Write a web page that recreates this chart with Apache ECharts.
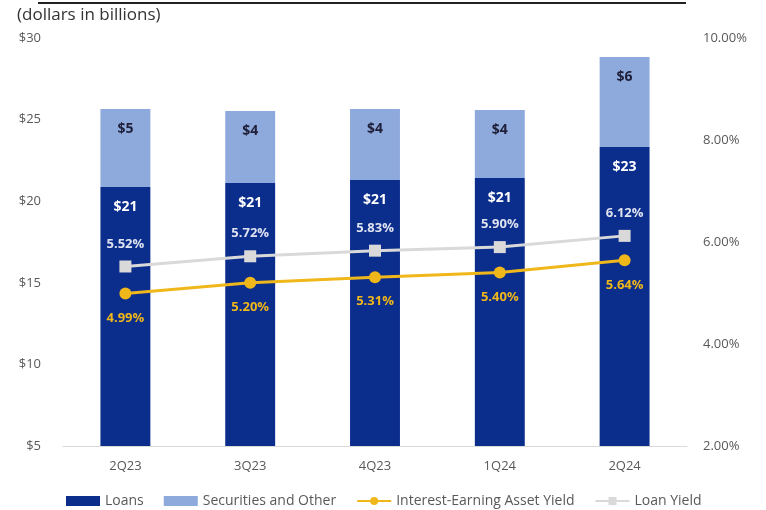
<!DOCTYPE html>
<html>
<head>
<meta charset="utf-8">
<script src="https://cdn.jsdelivr.net/npm/echarts@6/dist/echarts.min.js"></script>
<style>
  html, body { margin: 0; padding: 0; background: #fff; }
  #chart { width: 766px; height: 510px; }
</style>
</head>
<body>
<div id="chart"></div>
<script>
// Quarterly balances (dollars in billions) and yields (%)
const quarters = ['2Q23', '3Q23', '4Q23', '1Q24', '2Q24'];
const loans = [20.87, 21.12, 21.30, 21.42, 23.32];
const securities = [4.78, 4.41, 4.35, 4.17, 5.52];
const assetYield = [4.99, 5.20, 5.31, 5.40, 5.64];
const loanYield = [5.52, 5.72, 5.83, 5.90, 6.12];

const FONT = '"Open Sans", "Noto Sans", sans-serif';
const NAVY = '#0b2d8c';
const LIGHT = '#8eaadc';
const GOLD = '#f0b71a';
const GREY = '#d9d9d9';

const chart = echarts.init(document.getElementById('chart'), null, { renderer: 'canvas' });

chart.setOption({
  animation: false,
  textStyle: { fontFamily: FONT },
  graphic: [
    { type: 'rect', left: 38, top: 2, shape: { width: 648, height: 2 }, style: { fill: '#222' } },
    { type: 'text', left: 17, top: 7, style: { text: '(dollars in billions)', font: '17px ' + FONT, fill: '#333' } }
  ],
  grid: { left: 63, right: 79, top: 38, bottom: 64 },
  legend: {
    top: 494,
    left: 66,
    itemGap: 20,
    itemWidth: 34,
    itemHeight: 10,
    padding: [0, 0, 0, 0],
    textStyle: { color: '#595959', fontSize: 14, fontFamily: FONT },
    data: [
      { name: 'Loans', icon: 'rect' },
      { name: 'Securities and Other', icon: 'rect' },
      { name: 'Interest-Earning Asset Yield' },
      { name: 'Loan Yield' }
    ]
  },
  xAxis: {
    type: 'category',
    data: quarters,
    axisLine: { lineStyle: { color: GREY, width: 1 } },
    axisTick: { show: false },
    axisLabel: { color: '#595959', fontSize: 13, margin: 14 }
  },
  yAxis: [
    {
      type: 'value', min: 5, max: 30, interval: 5,
      splitLine: { show: false },
      axisLine: { show: false },
      axisTick: { show: false },
      axisLabel: { color: '#595959', fontSize: 13, margin: 22, formatter: v => '$' + v }
    },
    {
      type: 'value', min: 2, max: 10, interval: 2,
      splitLine: { show: false },
      axisLine: { show: false },
      axisTick: { show: false },
      axisLabel: { color: '#595959', fontSize: 13, margin: 16, formatter: v => v.toFixed(2) + '%' }
    }
  ],
  series: [
    {
      name: 'Loans', type: 'bar', stack: 'bal', data: loans, barWidth: '40%',
      itemStyle: { color: NAVY },
      label: {
        show: true, position: 'insideTop', distance: 13,
        color: '#fff', fontWeight: 'bold', fontSize: 14,
        formatter: p => '$' + Math.round(p.value)
      }
    },
    {
      name: 'Securities and Other', type: 'bar', stack: 'bal', data: securities,
      itemStyle: { color: LIGHT },
      label: {
        show: true, position: 'insideTop', distance: 13,
        color: '#1f1f3a', fontWeight: 'bold', fontSize: 14,
        formatter: p => '$' + Math.round(p.value)
      }
    },
    {
      name: 'Loan Yield', type: 'line', yAxisIndex: 1, data: loanYield, z: 5,
      symbol: 'rect', symbolSize: 12,
      lineStyle: { color: GREY, width: 3 },
      itemStyle: { color: GREY },
      label: {
        show: true, position: 'top', distance: 10,
        color: '#dfe3f0', fontWeight: 'bold', fontSize: 13,
        formatter: p => p.value.toFixed(2) + '%'
      }
    },
    {
      name: 'Interest-Earning Asset Yield', type: 'line', yAxisIndex: 1, data: assetYield, z: 6,
      symbol: 'circle', symbolSize: 12,
      lineStyle: { color: GOLD, width: 3 },
      itemStyle: { color: GOLD },
      label: {
        show: true, position: 'bottom', distance: 12,
        color: GOLD, fontWeight: 'bold', fontSize: 13,
        formatter: p => p.value.toFixed(2) + '%'
      }
    }
  ]
});
</script>
</body>
</html>
